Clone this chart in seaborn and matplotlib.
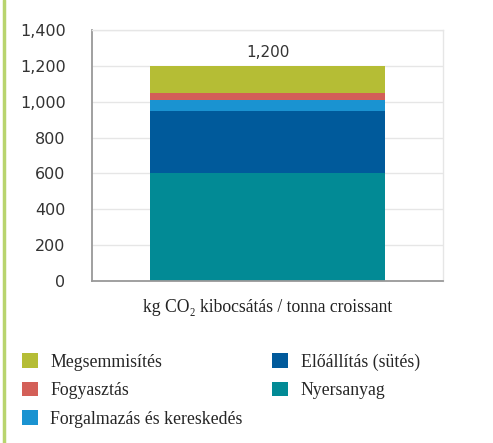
import numpy as np
import pandas as pd
import matplotlib
matplotlib.use("Agg")
import matplotlib.pyplot as plt
import seaborn as sns
from matplotlib.lines import Line2D

# adatok (kg CO2 / tonna croissant)
category = "kg CO₂ kibocsátás / tonna croissant"
stages = ["Megsemmisítés", "Fogyasztás", "Forgalmazás és kereskedés",
          "Előállítás (sütés)", "Nyersanyag"]
values = [150, 40, 60, 350, 600]
colors = ["#B5BD35", "#D35F58", "#1A93D1", "#005A9B", "#028A95"]
yticks = [0, 200, 400, 600, 800, 1000, 1200, 1400]

sns.set_style("white")
plt.rcParams["font.family"] = ["DejaVu Sans"]

fig = plt.figure(figsize=(4.93, 4.43), dpi=100)
ax = fig.add_axes([92 / 493, 1 - 281 / 443, 351 / 493, 251 / 443])

# halmozott oszlop: kumulált értékek felülről lefelé
cum = np.cumsum(values[::-1])[::-1]
for name, total, col in zip(stages, cum, colors):
    df = pd.DataFrame({"cat": [category], "val": [total]})
    sns.barplot(data=df, x="cat", y="val", color=col, width=0.667,
                saturation=1, label=name, ax=ax, zorder=2,
                linewidth=0, edgecolor=col)

ax.text(0, cum[0] + 35, f"{cum[0]:,}", ha="center", va="bottom",
        fontsize=11, color="#333333")

ax.set_ylim(0, 1400)
ax.set_xlim(-0.5, 0.5)
ax.set_yticks(yticks)
ax.set_yticklabels([f"{v:,}" for v in yticks])
ax.set_xticks([-0.5, 0.5])
ax.set_xticklabels(["", ""])
ax.set_ylabel("")
ax.set_xlabel(category, fontsize=12.7, family="Liberation Serif",
              color="#222222")
ax.xaxis.set_label_coords(0.5, -0.072)

ax.yaxis.grid(True, color="#e6e6e6", lw=1, zorder=0)
ax.set_axisbelow(True)
for s in ["left", "bottom"]:
    ax.spines[s].set_color("#999999")
    ax.spines[s].set_linewidth(1.3)
for s in ["top", "right"]:
    ax.spines[s].set_color("#e6e6e6")
    ax.spines[s].set_linewidth(1)
ax.tick_params(axis="y", length=10, width=1.3, color="#999999",
               labelsize=11.5, labelcolor="#333333", pad=9)
ax.tick_params(axis="x", length=10, width=1.3, color="#999999", pad=0)

handles, labels = ax.get_legend_handles_labels()
if ax.legend_:
    ax.legend_.remove()
fig.legend(handles, labels, loc="upper left", bbox_to_anchor=(6 / 493, 1 - 337 / 443),
           ncol=2, frameon=False, handlelength=0.9, handleheight=0.9,
           handletextpad=0.7, labelspacing=0.62, columnspacing=1.65,
           prop={"family": "Liberation Serif", "size": 12.8})

fig.add_artist(Line2D([4 / 493, 4 / 493], [0, 1], transform=fig.transFigure,
                      color="#B8D46E", lw=2.5))

fig.savefig("out.png", dpi=100)
